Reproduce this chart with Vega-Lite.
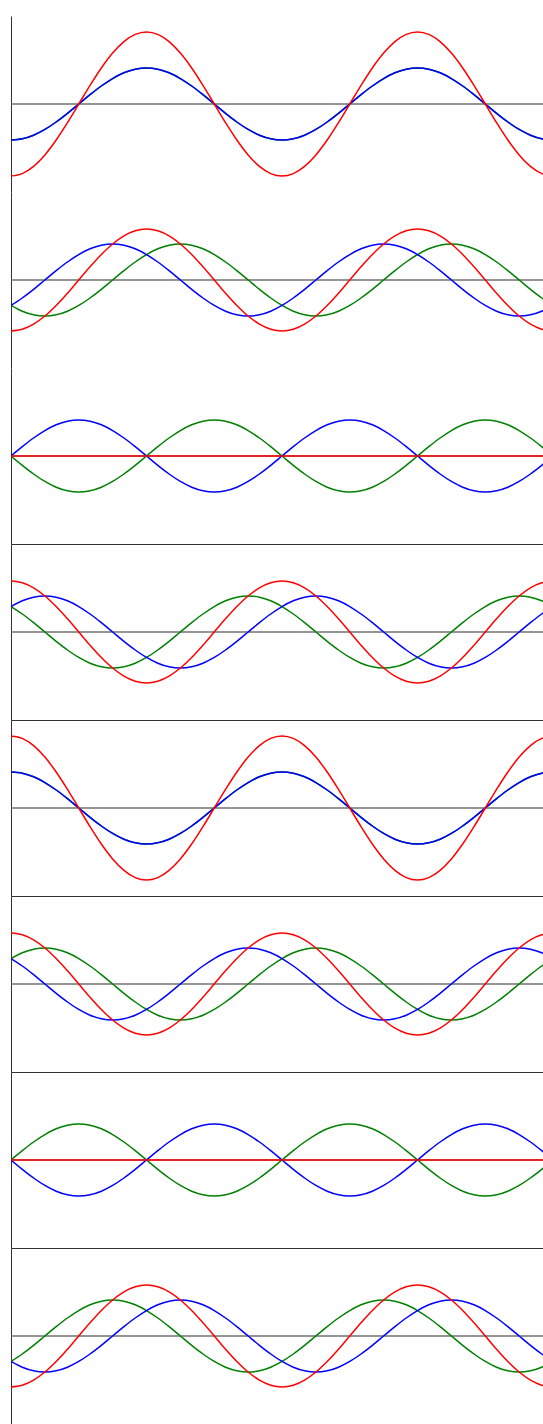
{
"$schema": "https://vega.github.io/schema/vega-lite/v6.json",
"padding": {"left": 10, "top": 16, "right": 0, "bottom": 0},
"spacing": 0,
"bounds": "flush",
"config": {"view": {"stroke": null}, "axis": {"ticks": false, "labels": false, "grid": false, "domainColor": "#333333", "domainWidth": 1}},
"datasets": {
"d": [
{"p":1,"t":0,"b":-1,"g":-1,"r":-2},{"p":1,"t":15,"b":-0.966,"g":-0.966,"r":-1.932},{"p":1,"t":30,"b":-0.866,"g":-0.866,"r":-1.732},{"p":1,"t":45,"b":-0.707,"g":-0.707,"r":-1.414},{"p":1,"t":60,"b":-0.5,"g":-0.5,"r":-1},{"p":1,"t":75,"b":-0.259,"g":-0.259,"r":-0.518},{"p":1,"t":90,"b":0,"g":0,"r":0},{"p":1,"t":105,"b":0.259,"g":0.259,"r":0.518},{"p":1,"t":120,"b":0.5,"g":0.5,"r":1},{"p":1,"t":135,"b":0.707,"g":0.707,"r":1.414},{"p":1,"t":150,"b":0.866,"g":0.866,"r":1.732},{"p":1,"t":165,"b":0.966,"g":0.966,"r":1.932},{"p":1,"t":180,"b":1,"g":1,"r":2},{"p":1,"t":195,"b":0.966,"g":0.966,"r":1.932},{"p":1,"t":210,"b":0.866,"g":0.866,"r":1.732},{"p":1,"t":225,"b":0.707,"g":0.707,"r":1.414},{"p":1,"t":240,"b":0.5,"g":0.5,"r":1},{"p":1,"t":255,"b":0.259,"g":0.259,"r":0.518},{"p":1,"t":270,"b":0,"g":0,"r":0},{"p":1,"t":285,"b":-0.259,"g":-0.259,"r":-0.518},{"p":1,"t":300,"b":-0.5,"g":-0.5,"r":-1},{"p":1,"t":315,"b":-0.707,"g":-0.707,"r":-1.414},{"p":1,"t":330,"b":-0.866,"g":-0.866,"r":-1.732},{"p":1,"t":345,"b":-0.966,"g":-0.966,"r":-1.932},
{"p":1,"t":360,"b":-1,"g":-1,"r":-2},{"p":1,"t":375,"b":-0.966,"g":-0.966,"r":-1.932},{"p":1,"t":390,"b":-0.866,"g":-0.866,"r":-1.732},{"p":1,"t":405,"b":-0.707,"g":-0.707,"r":-1.414},{"p":1,"t":420,"b":-0.5,"g":-0.5,"r":-1},{"p":1,"t":435,"b":-0.259,"g":-0.259,"r":-0.518},{"p":1,"t":450,"b":0,"g":0,"r":0},{"p":1,"t":465,"b":0.259,"g":0.259,"r":0.518},{"p":1,"t":480,"b":0.5,"g":0.5,"r":1},{"p":1,"t":495,"b":0.707,"g":0.707,"r":1.414},{"p":1,"t":510,"b":0.866,"g":0.866,"r":1.732},{"p":1,"t":525,"b":0.966,"g":0.966,"r":1.932},{"p":1,"t":540,"b":1,"g":1,"r":2},{"p":1,"t":555,"b":0.966,"g":0.966,"r":1.932},{"p":1,"t":570,"b":0.866,"g":0.866,"r":1.732},{"p":1,"t":585,"b":0.707,"g":0.707,"r":1.414},{"p":1,"t":600,"b":0.5,"g":0.5,"r":1},{"p":1,"t":615,"b":0.259,"g":0.259,"r":0.518},{"p":1,"t":630,"b":0,"g":0,"r":0},{"p":1,"t":645,"b":-0.259,"g":-0.259,"r":-0.518},{"p":1,"t":660,"b":-0.5,"g":-0.5,"r":-1},{"p":1,"t":675,"b":-0.707,"g":-0.707,"r":-1.414},{"p":1,"t":690,"b":-0.866,"g":-0.866,"r":-1.732},{"p":1,"t":705,"b":-0.966,"g":-0.966,"r":-1.932},{"p":1,"t":720,"b":-1,"g":-1,"r":-2},

{"p":2,"t":0,"b":-0.707,"g":-0.707,"r":-1.414},{"p":2,"t":15,"b":-0.5,"g":-0.866,"r":-1.366},{"p":2,"t":30,"b":-0.259,"g":-0.966,"r":-1.225},{"p":2,"t":45,"b":0,"g":-1,"r":-1},{"p":2,"t":60,"b":0.259,"g":-0.966,"r":-0.707},{"p":2,"t":75,"b":0.5,"g":-0.866,"r":-0.366},{"p":2,"t":90,"b":0.707,"g":-0.707,"r":0},{"p":2,"t":105,"b":0.866,"g":-0.5,"r":0.366},{"p":2,"t":120,"b":0.966,"g":-0.259,"r":0.707},{"p":2,"t":135,"b":1,"g":0,"r":1},{"p":2,"t":150,"b":0.966,"g":0.259,"r":1.225},{"p":2,"t":165,"b":0.866,"g":0.5,"r":1.366},{"p":2,"t":180,"b":0.707,"g":0.707,"r":1.414},{"p":2,"t":195,"b":0.5,"g":0.866,"r":1.366},{"p":2,"t":210,"b":0.259,"g":0.966,"r":1.225},{"p":2,"t":225,"b":0,"g":1,"r":1},{"p":2,"t":240,"b":-0.259,"g":0.966,"r":0.707},{"p":2,"t":255,"b":-0.5,"g":0.866,"r":0.366},{"p":2,"t":270,"b":-0.707,"g":0.707,"r":0},{"p":2,"t":285,"b":-0.866,"g":0.5,"r":-0.366},{"p":2,"t":300,"b":-0.966,"g":0.259,"r":-0.707},{"p":2,"t":315,"b":-1,"g":0,"r":-1},{"p":2,"t":330,"b":-0.966,"g":-0.259,"r":-1.225},{"p":2,"t":345,"b":-0.866,"g":-0.5,"r":-1.366},
{"p":2,"t":360,"b":-0.707,"g":-0.707,"r":-1.414},{"p":2,"t":375,"b":-0.5,"g":-0.866,"r":-1.366},{"p":2,"t":390,"b":-0.259,"g":-0.966,"r":-1.225},{"p":2,"t":405,"b":0,"g":-1,"r":-1},{"p":2,"t":420,"b":0.259,"g":-0.966,"r":-0.707},{"p":2,"t":435,"b":0.5,"g":-0.866,"r":-0.366},{"p":2,"t":450,"b":0.707,"g":-0.707,"r":0},{"p":2,"t":465,"b":0.866,"g":-0.5,"r":0.366},{"p":2,"t":480,"b":0.966,"g":-0.259,"r":0.707},{"p":2,"t":495,"b":1,"g":0,"r":1},{"p":2,"t":510,"b":0.966,"g":0.259,"r":1.225},{"p":2,"t":525,"b":0.866,"g":0.5,"r":1.366},{"p":2,"t":540,"b":0.707,"g":0.707,"r":1.414},{"p":2,"t":555,"b":0.5,"g":0.866,"r":1.366},{"p":2,"t":570,"b":0.259,"g":0.966,"r":1.225},{"p":2,"t":585,"b":0,"g":1,"r":1},{"p":2,"t":600,"b":-0.259,"g":0.966,"r":0.707},{"p":2,"t":615,"b":-0.5,"g":0.866,"r":0.366},{"p":2,"t":630,"b":-0.707,"g":0.707,"r":0},{"p":2,"t":645,"b":-0.866,"g":0.5,"r":-0.366},{"p":2,"t":660,"b":-0.966,"g":0.259,"r":-0.707},{"p":2,"t":675,"b":-1,"g":0,"r":-1},{"p":2,"t":690,"b":-0.966,"g":-0.259,"r":-1.225},{"p":2,"t":705,"b":-0.866,"g":-0.5,"r":-1.366},{"p":2,"t":720,"b":-0.707,"g":-0.707,"r":-1.414},

{"p":3,"t":0,"b":0,"g":0,"r":0},{"p":3,"t":15,"b":0.259,"g":-0.259,"r":0},{"p":3,"t":30,"b":0.5,"g":-0.5,"r":0},{"p":3,"t":45,"b":0.707,"g":-0.707,"r":0},{"p":3,"t":60,"b":0.866,"g":-0.866,"r":0},{"p":3,"t":75,"b":0.966,"g":-0.966,"r":0},{"p":3,"t":90,"b":1,"g":-1,"r":0},{"p":3,"t":105,"b":0.966,"g":-0.966,"r":0},{"p":3,"t":120,"b":0.866,"g":-0.866,"r":0},{"p":3,"t":135,"b":0.707,"g":-0.707,"r":0},{"p":3,"t":150,"b":0.5,"g":-0.5,"r":0},{"p":3,"t":165,"b":0.259,"g":-0.259,"r":0},{"p":3,"t":180,"b":0,"g":0,"r":0},{"p":3,"t":195,"b":-0.259,"g":0.259,"r":0},{"p":3,"t":210,"b":-0.5,"g":0.5,"r":0},{"p":3,"t":225,"b":-0.707,"g":0.707,"r":0},{"p":3,"t":240,"b":-0.866,"g":0.866,"r":0},{"p":3,"t":255,"b":-0.966,"g":0.966,"r":0},{"p":3,"t":270,"b":-1,"g":1,"r":0},{"p":3,"t":285,"b":-0.966,"g":0.966,"r":0},{"p":3,"t":300,"b":-0.866,"g":0.866,"r":0},{"p":3,"t":315,"b":-0.707,"g":0.707,"r":0},{"p":3,"t":330,"b":-0.5,"g":0.5,"r":0},{"p":3,"t":345,"b":-0.259,"g":0.259,"r":0},
{"p":3,"t":360,"b":0,"g":0,"r":0},{"p":3,"t":375,"b":0.259,"g":-0.259,"r":0},{"p":3,"t":390,"b":0.5,"g":-0.5,"r":0},{"p":3,"t":405,"b":0.707,"g":-0.707,"r":0},{"p":3,"t":420,"b":0.866,"g":-0.866,"r":0},{"p":3,"t":435,"b":0.966,"g":-0.966,"r":0},{"p":3,"t":450,"b":1,"g":-1,"r":0},{"p":3,"t":465,"b":0.966,"g":-0.966,"r":0},{"p":3,"t":480,"b":0.866,"g":-0.866,"r":0},{"p":3,"t":495,"b":0.707,"g":-0.707,"r":0},{"p":3,"t":510,"b":0.5,"g":-0.5,"r":0},{"p":3,"t":525,"b":0.259,"g":-0.259,"r":0},{"p":3,"t":540,"b":0,"g":0,"r":0},{"p":3,"t":555,"b":-0.259,"g":0.259,"r":0},{"p":3,"t":570,"b":-0.5,"g":0.5,"r":0},{"p":3,"t":585,"b":-0.707,"g":0.707,"r":0},{"p":3,"t":600,"b":-0.866,"g":0.866,"r":0},{"p":3,"t":615,"b":-0.966,"g":0.966,"r":0},{"p":3,"t":630,"b":-1,"g":1,"r":0},{"p":3,"t":645,"b":-0.966,"g":0.966,"r":0},{"p":3,"t":660,"b":-0.866,"g":0.866,"r":0},{"p":3,"t":675,"b":-0.707,"g":0.707,"r":0},{"p":3,"t":690,"b":-0.5,"g":0.5,"r":0},{"p":3,"t":705,"b":-0.259,"g":0.259,"r":0},{"p":3,"t":720,"b":0,"g":0,"r":0},

{"p":4,"t":0,"b":0.707,"g":0.707,"r":1.414},{"p":4,"t":15,"b":0.866,"g":0.5,"r":1.366},{"p":4,"t":30,"b":0.966,"g":0.259,"r":1.225},{"p":4,"t":45,"b":1,"g":0,"r":1},{"p":4,"t":60,"b":0.966,"g":-0.259,"r":0.707},{"p":4,"t":75,"b":0.866,"g":-0.5,"r":0.366},{"p":4,"t":90,"b":0.707,"g":-0.707,"r":0},{"p":4,"t":105,"b":0.5,"g":-0.866,"r":-0.366},{"p":4,"t":120,"b":0.259,"g":-0.966,"r":-0.707},{"p":4,"t":135,"b":0,"g":-1,"r":-1},{"p":4,"t":150,"b":-0.259,"g":-0.966,"r":-1.225},{"p":4,"t":165,"b":-0.5,"g":-0.866,"r":-1.366},{"p":4,"t":180,"b":-0.707,"g":-0.707,"r":-1.414},{"p":4,"t":195,"b":-0.866,"g":-0.5,"r":-1.366},{"p":4,"t":210,"b":-0.966,"g":-0.259,"r":-1.225},{"p":4,"t":225,"b":-1,"g":0,"r":-1},{"p":4,"t":240,"b":-0.966,"g":0.259,"r":-0.707},{"p":4,"t":255,"b":-0.866,"g":0.5,"r":-0.366},{"p":4,"t":270,"b":-0.707,"g":0.707,"r":0},{"p":4,"t":285,"b":-0.5,"g":0.866,"r":0.366},{"p":4,"t":300,"b":-0.259,"g":0.966,"r":0.707},{"p":4,"t":315,"b":0,"g":1,"r":1},{"p":4,"t":330,"b":0.259,"g":0.966,"r":1.225},{"p":4,"t":345,"b":0.5,"g":0.866,"r":1.366},
{"p":4,"t":360,"b":0.707,"g":0.707,"r":1.414},{"p":4,"t":375,"b":0.866,"g":0.5,"r":1.366},{"p":4,"t":390,"b":0.966,"g":0.259,"r":1.225},{"p":4,"t":405,"b":1,"g":0,"r":1},{"p":4,"t":420,"b":0.966,"g":-0.259,"r":0.707},{"p":4,"t":435,"b":0.866,"g":-0.5,"r":0.366},{"p":4,"t":450,"b":0.707,"g":-0.707,"r":0},{"p":4,"t":465,"b":0.5,"g":-0.866,"r":-0.366},{"p":4,"t":480,"b":0.259,"g":-0.966,"r":-0.707},{"p":4,"t":495,"b":0,"g":-1,"r":-1},{"p":4,"t":510,"b":-0.259,"g":-0.966,"r":-1.225},{"p":4,"t":525,"b":-0.5,"g":-0.866,"r":-1.366},{"p":4,"t":540,"b":-0.707,"g":-0.707,"r":-1.414},{"p":4,"t":555,"b":-0.866,"g":-0.5,"r":-1.366},{"p":4,"t":570,"b":-0.966,"g":-0.259,"r":-1.225},{"p":4,"t":585,"b":-1,"g":0,"r":-1},{"p":4,"t":600,"b":-0.966,"g":0.259,"r":-0.707},{"p":4,"t":615,"b":-0.866,"g":0.5,"r":-0.366},{"p":4,"t":630,"b":-0.707,"g":0.707,"r":0},{"p":4,"t":645,"b":-0.5,"g":0.866,"r":0.366},{"p":4,"t":660,"b":-0.259,"g":0.966,"r":0.707},{"p":4,"t":675,"b":0,"g":1,"r":1},{"p":4,"t":690,"b":0.259,"g":0.966,"r":1.225},{"p":4,"t":705,"b":0.5,"g":0.866,"r":1.366},{"p":4,"t":720,"b":0.707,"g":0.707,"r":1.414},

{"p":5,"t":0,"b":1,"g":1,"r":2},{"p":5,"t":15,"b":0.966,"g":0.966,"r":1.932},{"p":5,"t":30,"b":0.866,"g":0.866,"r":1.732},{"p":5,"t":45,"b":0.707,"g":0.707,"r":1.414},{"p":5,"t":60,"b":0.5,"g":0.5,"r":1},{"p":5,"t":75,"b":0.259,"g":0.259,"r":0.518},{"p":5,"t":90,"b":0,"g":0,"r":0},{"p":5,"t":105,"b":-0.259,"g":-0.259,"r":-0.518},{"p":5,"t":120,"b":-0.5,"g":-0.5,"r":-1},{"p":5,"t":135,"b":-0.707,"g":-0.707,"r":-1.414},{"p":5,"t":150,"b":-0.866,"g":-0.866,"r":-1.732},{"p":5,"t":165,"b":-0.966,"g":-0.966,"r":-1.932},{"p":5,"t":180,"b":-1,"g":-1,"r":-2},{"p":5,"t":195,"b":-0.966,"g":-0.966,"r":-1.932},{"p":5,"t":210,"b":-0.866,"g":-0.866,"r":-1.732},{"p":5,"t":225,"b":-0.707,"g":-0.707,"r":-1.414},{"p":5,"t":240,"b":-0.5,"g":-0.5,"r":-1},{"p":5,"t":255,"b":-0.259,"g":-0.259,"r":-0.518},{"p":5,"t":270,"b":0,"g":0,"r":0},{"p":5,"t":285,"b":0.259,"g":0.259,"r":0.518},{"p":5,"t":300,"b":0.5,"g":0.5,"r":1},{"p":5,"t":315,"b":0.707,"g":0.707,"r":1.414},{"p":5,"t":330,"b":0.866,"g":0.866,"r":1.732},{"p":5,"t":345,"b":0.966,"g":0.966,"r":1.932},
{"p":5,"t":360,"b":1,"g":1,"r":2},{"p":5,"t":375,"b":0.966,"g":0.966,"r":1.932},{"p":5,"t":390,"b":0.866,"g":0.866,"r":1.732},{"p":5,"t":405,"b":0.707,"g":0.707,"r":1.414},{"p":5,"t":420,"b":0.5,"g":0.5,"r":1},{"p":5,"t":435,"b":0.259,"g":0.259,"r":0.518},{"p":5,"t":450,"b":0,"g":0,"r":0},{"p":5,"t":465,"b":-0.259,"g":-0.259,"r":-0.518},{"p":5,"t":480,"b":-0.5,"g":-0.5,"r":-1},{"p":5,"t":495,"b":-0.707,"g":-0.707,"r":-1.414},{"p":5,"t":510,"b":-0.866,"g":-0.866,"r":-1.732},{"p":5,"t":525,"b":-0.966,"g":-0.966,"r":-1.932},{"p":5,"t":540,"b":-1,"g":-1,"r":-2},{"p":5,"t":555,"b":-0.966,"g":-0.966,"r":-1.932},{"p":5,"t":570,"b":-0.866,"g":-0.866,"r":-1.732},{"p":5,"t":585,"b":-0.707,"g":-0.707,"r":-1.414},{"p":5,"t":600,"b":-0.5,"g":-0.5,"r":-1},{"p":5,"t":615,"b":-0.259,"g":-0.259,"r":-0.518},{"p":5,"t":630,"b":0,"g":0,"r":0},{"p":5,"t":645,"b":0.259,"g":0.259,"r":0.518},{"p":5,"t":660,"b":0.5,"g":0.5,"r":1},{"p":5,"t":675,"b":0.707,"g":0.707,"r":1.414},{"p":5,"t":690,"b":0.866,"g":0.866,"r":1.732},{"p":5,"t":705,"b":0.966,"g":0.966,"r":1.932},{"p":5,"t":720,"b":1,"g":1,"r":2},

{"p":6,"t":0,"g":0.707,"b":0.707,"r":1.414},{"p":6,"t":15,"g":0.866,"b":0.5,"r":1.366},{"p":6,"t":30,"g":0.966,"b":0.259,"r":1.225},{"p":6,"t":45,"g":1,"b":0,"r":1},{"p":6,"t":60,"g":0.966,"b":-0.259,"r":0.707},{"p":6,"t":75,"g":0.866,"b":-0.5,"r":0.366},{"p":6,"t":90,"g":0.707,"b":-0.707,"r":0},{"p":6,"t":105,"g":0.5,"b":-0.866,"r":-0.366},{"p":6,"t":120,"g":0.259,"b":-0.966,"r":-0.707},{"p":6,"t":135,"g":0,"b":-1,"r":-1},{"p":6,"t":150,"g":-0.259,"b":-0.966,"r":-1.225},{"p":6,"t":165,"g":-0.5,"b":-0.866,"r":-1.366},{"p":6,"t":180,"g":-0.707,"b":-0.707,"r":-1.414},{"p":6,"t":195,"g":-0.866,"b":-0.5,"r":-1.366},{"p":6,"t":210,"g":-0.966,"b":-0.259,"r":-1.225},{"p":6,"t":225,"g":-1,"b":0,"r":-1},{"p":6,"t":240,"g":-0.966,"b":0.259,"r":-0.707},{"p":6,"t":255,"g":-0.866,"b":0.5,"r":-0.366},{"p":6,"t":270,"g":-0.707,"b":0.707,"r":0},{"p":6,"t":285,"g":-0.5,"b":0.866,"r":0.366},{"p":6,"t":300,"g":-0.259,"b":0.966,"r":0.707},{"p":6,"t":315,"g":0,"b":1,"r":1},{"p":6,"t":330,"g":0.259,"b":0.966,"r":1.225},{"p":6,"t":345,"g":0.5,"b":0.866,"r":1.366},
{"p":6,"t":360,"g":0.707,"b":0.707,"r":1.414},{"p":6,"t":375,"g":0.866,"b":0.5,"r":1.366},{"p":6,"t":390,"g":0.966,"b":0.259,"r":1.225},{"p":6,"t":405,"g":1,"b":0,"r":1},{"p":6,"t":420,"g":0.966,"b":-0.259,"r":0.707},{"p":6,"t":435,"g":0.866,"b":-0.5,"r":0.366},{"p":6,"t":450,"g":0.707,"b":-0.707,"r":0},{"p":6,"t":465,"g":0.5,"b":-0.866,"r":-0.366},{"p":6,"t":480,"g":0.259,"b":-0.966,"r":-0.707},{"p":6,"t":495,"g":0,"b":-1,"r":-1},{"p":6,"t":510,"g":-0.259,"b":-0.966,"r":-1.225},{"p":6,"t":525,"g":-0.5,"b":-0.866,"r":-1.366},{"p":6,"t":540,"g":-0.707,"b":-0.707,"r":-1.414},{"p":6,"t":555,"g":-0.866,"b":-0.5,"r":-1.366},{"p":6,"t":570,"g":-0.966,"b":-0.259,"r":-1.225},{"p":6,"t":585,"g":-1,"b":0,"r":-1},{"p":6,"t":600,"g":-0.966,"b":0.259,"r":-0.707},{"p":6,"t":615,"g":-0.866,"b":0.5,"r":-0.366},{"p":6,"t":630,"g":-0.707,"b":0.707,"r":0},{"p":6,"t":645,"g":-0.5,"b":0.866,"r":0.366},{"p":6,"t":660,"g":-0.259,"b":0.966,"r":0.707},{"p":6,"t":675,"g":0,"b":1,"r":1},{"p":6,"t":690,"g":0.259,"b":0.966,"r":1.225},{"p":6,"t":705,"g":0.5,"b":0.866,"r":1.366},{"p":6,"t":720,"g":0.707,"b":0.707,"r":1.414},

{"p":7,"t":0,"g":0,"b":0,"r":0},{"p":7,"t":15,"g":0.259,"b":-0.259,"r":0},{"p":7,"t":30,"g":0.5,"b":-0.5,"r":0},{"p":7,"t":45,"g":0.707,"b":-0.707,"r":0},{"p":7,"t":60,"g":0.866,"b":-0.866,"r":0},{"p":7,"t":75,"g":0.966,"b":-0.966,"r":0},{"p":7,"t":90,"g":1,"b":-1,"r":0},{"p":7,"t":105,"g":0.966,"b":-0.966,"r":0},{"p":7,"t":120,"g":0.866,"b":-0.866,"r":0},{"p":7,"t":135,"g":0.707,"b":-0.707,"r":0},{"p":7,"t":150,"g":0.5,"b":-0.5,"r":0},{"p":7,"t":165,"g":0.259,"b":-0.259,"r":0},{"p":7,"t":180,"g":0,"b":0,"r":0},{"p":7,"t":195,"g":-0.259,"b":0.259,"r":0},{"p":7,"t":210,"g":-0.5,"b":0.5,"r":0},{"p":7,"t":225,"g":-0.707,"b":0.707,"r":0},{"p":7,"t":240,"g":-0.866,"b":0.866,"r":0},{"p":7,"t":255,"g":-0.966,"b":0.966,"r":0},{"p":7,"t":270,"g":-1,"b":1,"r":0},{"p":7,"t":285,"g":-0.966,"b":0.966,"r":0},{"p":7,"t":300,"g":-0.866,"b":0.866,"r":0},{"p":7,"t":315,"g":-0.707,"b":0.707,"r":0},{"p":7,"t":330,"g":-0.5,"b":0.5,"r":0},{"p":7,"t":345,"g":-0.259,"b":0.259,"r":0},
{"p":7,"t":360,"g":0,"b":0,"r":0},{"p":7,"t":375,"g":0.259,"b":-0.259,"r":0},{"p":7,"t":390,"g":0.5,"b":-0.5,"r":0},{"p":7,"t":405,"g":0.707,"b":-0.707,"r":0},{"p":7,"t":420,"g":0.866,"b":-0.866,"r":0},{"p":7,"t":435,"g":0.966,"b":-0.966,"r":0},{"p":7,"t":450,"g":1,"b":-1,"r":0},{"p":7,"t":465,"g":0.966,"b":-0.966,"r":0},{"p":7,"t":480,"g":0.866,"b":-0.866,"r":0},{"p":7,"t":495,"g":0.707,"b":-0.707,"r":0},{"p":7,"t":510,"g":0.5,"b":-0.5,"r":0},{"p":7,"t":525,"g":0.259,"b":-0.259,"r":0},{"p":7,"t":540,"g":0,"b":0,"r":0},{"p":7,"t":555,"g":-0.259,"b":0.259,"r":0},{"p":7,"t":570,"g":-0.5,"b":0.5,"r":0},{"p":7,"t":585,"g":-0.707,"b":0.707,"r":0},{"p":7,"t":600,"g":-0.866,"b":0.866,"r":0},{"p":7,"t":615,"g":-0.966,"b":0.966,"r":0},{"p":7,"t":630,"g":-1,"b":1,"r":0},{"p":7,"t":645,"g":-0.966,"b":0.966,"r":0},{"p":7,"t":660,"g":-0.866,"b":0.866,"r":0},{"p":7,"t":675,"g":-0.707,"b":0.707,"r":0},{"p":7,"t":690,"g":-0.5,"b":0.5,"r":0},{"p":7,"t":705,"g":-0.259,"b":0.259,"r":0},{"p":7,"t":720,"g":0,"b":0,"r":0},

{"p":8,"t":0,"g":-0.707,"b":-0.707,"r":-1.414},{"p":8,"t":15,"g":-0.5,"b":-0.866,"r":-1.366},{"p":8,"t":30,"g":-0.259,"b":-0.966,"r":-1.225},{"p":8,"t":45,"g":0,"b":-1,"r":-1},{"p":8,"t":60,"g":0.259,"b":-0.966,"r":-0.707},{"p":8,"t":75,"g":0.5,"b":-0.866,"r":-0.366},{"p":8,"t":90,"g":0.707,"b":-0.707,"r":0},{"p":8,"t":105,"g":0.866,"b":-0.5,"r":0.366},{"p":8,"t":120,"g":0.966,"b":-0.259,"r":0.707},{"p":8,"t":135,"g":1,"b":0,"r":1},{"p":8,"t":150,"g":0.966,"b":0.259,"r":1.225},{"p":8,"t":165,"g":0.866,"b":0.5,"r":1.366},{"p":8,"t":180,"g":0.707,"b":0.707,"r":1.414},{"p":8,"t":195,"g":0.5,"b":0.866,"r":1.366},{"p":8,"t":210,"g":0.259,"b":0.966,"r":1.225},{"p":8,"t":225,"g":0,"b":1,"r":1},{"p":8,"t":240,"g":-0.259,"b":0.966,"r":0.707},{"p":8,"t":255,"g":-0.5,"b":0.866,"r":0.366},{"p":8,"t":270,"g":-0.707,"b":0.707,"r":0},{"p":8,"t":285,"g":-0.866,"b":0.5,"r":-0.366},{"p":8,"t":300,"g":-0.966,"b":0.259,"r":-0.707},{"p":8,"t":315,"g":-1,"b":0,"r":-1},{"p":8,"t":330,"g":-0.966,"b":-0.259,"r":-1.225},{"p":8,"t":345,"g":-0.866,"b":-0.5,"r":-1.366},
{"p":8,"t":360,"g":-0.707,"b":-0.707,"r":-1.414},{"p":8,"t":375,"g":-0.5,"b":-0.866,"r":-1.366},{"p":8,"t":390,"g":-0.259,"b":-0.966,"r":-1.225},{"p":8,"t":405,"g":0,"b":-1,"r":-1},{"p":8,"t":420,"g":0.259,"b":-0.966,"r":-0.707},{"p":8,"t":435,"g":0.5,"b":-0.866,"r":-0.366},{"p":8,"t":450,"g":0.707,"b":-0.707,"r":0},{"p":8,"t":465,"g":0.866,"b":-0.5,"r":0.366},{"p":8,"t":480,"g":0.966,"b":-0.259,"r":0.707},{"p":8,"t":495,"g":1,"b":0,"r":1},{"p":8,"t":510,"g":0.966,"b":0.259,"r":1.225},{"p":8,"t":525,"g":0.866,"b":0.5,"r":1.366},{"p":8,"t":540,"g":0.707,"b":0.707,"r":1.414},{"p":8,"t":555,"g":0.5,"b":0.866,"r":1.366},{"p":8,"t":570,"g":0.259,"b":0.966,"r":1.225},{"p":8,"t":585,"g":0,"b":1,"r":1},{"p":8,"t":600,"g":-0.259,"b":0.966,"r":0.707},{"p":8,"t":615,"g":-0.5,"b":0.866,"r":0.366},{"p":8,"t":630,"g":-0.707,"b":0.707,"r":0},{"p":8,"t":645,"g":-0.866,"b":0.5,"r":-0.366},{"p":8,"t":660,"g":-0.966,"b":0.259,"r":-0.707},{"p":8,"t":675,"g":-1,"b":0,"r":-1},{"p":8,"t":690,"g":-0.966,"b":-0.259,"r":-1.225},{"p":8,"t":705,"g":-0.866,"b":-0.5,"r":-1.366},{"p":8,"t":720,"g":-0.707,"b":-0.707,"r":-1.414}
]
},
"vconcat": [
{"width": 533, "height": 176, "data": {"name": "d"}, "transform": [{"filter": "datum.p == 1"}],
 "layer": [
  {"data": {"values": [{}]}, "mark": {"type": "rule", "color": "#707070", "strokeWidth": 1.5}, "encoding": {"y": {"datum": 0, "type": "quantitative", "scale": {"domain": [-2.444, 2.444], "nice": false}, "title": null}}},
  {"mark": {"type": "line", "color": "#008000", "strokeWidth": 1.5, "interpolate": "monotone", "clip": true}, "encoding": {"x": {"field": "t", "type": "quantitative", "scale": {"domain": [0, 708], "nice": false}, "axis": null}, "y": {"field": "g", "type": "quantitative", "title": null}}},
  {"mark": {"type": "line", "color": "#0000ff", "strokeWidth": 1.5, "interpolate": "monotone", "clip": true}, "encoding": {"x": {"field": "t", "type": "quantitative", "axis": null}, "y": {"field": "b", "type": "quantitative", "title": null}}},
  {"mark": {"type": "line", "color": "#ff0000", "strokeWidth": 1.5, "interpolate": "monotone", "clip": true}, "encoding": {"x": {"field": "t", "type": "quantitative", "axis": null}, "y": {"field": "r", "type": "quantitative", "title": null}}}
 ]},
{"width": 533, "height": 176, "data": {"name": "d"}, "transform": [{"filter": "datum.p == 2"}],
 "layer": [
  {"data": {"values": [{}]}, "mark": {"type": "rule", "color": "#707070", "strokeWidth": 1.5}, "encoding": {"y": {"datum": 0, "type": "quantitative", "scale": {"domain": [-2.444, 2.444], "nice": false}, "title": null}}},
  {"mark": {"type": "line", "color": "#008000", "strokeWidth": 1.5, "interpolate": "monotone", "clip": true}, "encoding": {"x": {"field": "t", "type": "quantitative", "scale": {"domain": [0, 708], "nice": false}, "axis": null}, "y": {"field": "g", "type": "quantitative", "title": null}}},
  {"mark": {"type": "line", "color": "#0000ff", "strokeWidth": 1.5, "interpolate": "monotone", "clip": true}, "encoding": {"x": {"field": "t", "type": "quantitative", "axis": null}, "y": {"field": "b", "type": "quantitative", "title": null}}},
  {"mark": {"type": "line", "color": "#ff0000", "strokeWidth": 1.5, "interpolate": "monotone", "clip": true}, "encoding": {"x": {"field": "t", "type": "quantitative", "axis": null}, "y": {"field": "r", "type": "quantitative", "title": null}}}
 ]},
{"width": 533, "height": 176, "data": {"name": "d"}, "transform": [{"filter": "datum.p == 3"}],
 "layer": [
  {"data": {"values": [{}]}, "mark": {"type": "rule", "color": "#707070", "strokeWidth": 1.5}, "encoding": {"y": {"datum": 0, "type": "quantitative", "scale": {"domain": [-2.444, 2.444], "nice": false}, "title": null}}},
  {"mark": {"type": "line", "color": "#008000", "strokeWidth": 1.5, "interpolate": "monotone", "clip": true}, "encoding": {"x": {"field": "t", "type": "quantitative", "scale": {"domain": [0, 708], "nice": false}, "title": null}, "y": {"field": "g", "type": "quantitative", "title": null}}},
  {"mark": {"type": "line", "color": "#0000ff", "strokeWidth": 1.5, "interpolate": "monotone", "clip": true}, "encoding": {"x": {"field": "t", "type": "quantitative", "title": null}, "y": {"field": "b", "type": "quantitative", "title": null}}},
  {"mark": {"type": "line", "color": "#ff0000", "strokeWidth": 1.5, "interpolate": "monotone", "clip": true}, "encoding": {"x": {"field": "t", "type": "quantitative", "title": null}, "y": {"field": "r", "type": "quantitative", "title": null}}}
 ]},
{"width": 533, "height": 176, "data": {"name": "d"}, "transform": [{"filter": "datum.p == 4"}],
 "layer": [
  {"data": {"values": [{}]}, "mark": {"type": "rule", "color": "#707070", "strokeWidth": 1.5}, "encoding": {"y": {"datum": 0, "type": "quantitative", "scale": {"domain": [-2.444, 2.444], "nice": false}, "title": null}}},
  {"mark": {"type": "line", "color": "#008000", "strokeWidth": 1.5, "interpolate": "monotone", "clip": true}, "encoding": {"x": {"field": "t", "type": "quantitative", "scale": {"domain": [0, 708], "nice": false}, "title": null}, "y": {"field": "g", "type": "quantitative", "title": null}}},
  {"mark": {"type": "line", "color": "#0000ff", "strokeWidth": 1.5, "interpolate": "monotone", "clip": true}, "encoding": {"x": {"field": "t", "type": "quantitative", "title": null}, "y": {"field": "b", "type": "quantitative", "title": null}}},
  {"mark": {"type": "line", "color": "#ff0000", "strokeWidth": 1.5, "interpolate": "monotone", "clip": true}, "encoding": {"x": {"field": "t", "type": "quantitative", "title": null}, "y": {"field": "r", "type": "quantitative", "title": null}}}
 ]},
{"width": 533, "height": 176, "data": {"name": "d"}, "transform": [{"filter": "datum.p == 5"}],
 "layer": [
  {"data": {"values": [{}]}, "mark": {"type": "rule", "color": "#707070", "strokeWidth": 1.5}, "encoding": {"y": {"datum": 0, "type": "quantitative", "scale": {"domain": [-2.444, 2.444], "nice": false}, "title": null}}},
  {"mark": {"type": "line", "color": "#008000", "strokeWidth": 1.5, "interpolate": "monotone", "clip": true}, "encoding": {"x": {"field": "t", "type": "quantitative", "scale": {"domain": [0, 708], "nice": false}, "title": null}, "y": {"field": "g", "type": "quantitative", "title": null}}},
  {"mark": {"type": "line", "color": "#0000ff", "strokeWidth": 1.5, "interpolate": "monotone", "clip": true}, "encoding": {"x": {"field": "t", "type": "quantitative", "title": null}, "y": {"field": "b", "type": "quantitative", "title": null}}},
  {"mark": {"type": "line", "color": "#ff0000", "strokeWidth": 1.5, "interpolate": "monotone", "clip": true}, "encoding": {"x": {"field": "t", "type": "quantitative", "title": null}, "y": {"field": "r", "type": "quantitative", "title": null}}}
 ]},
{"width": 533, "height": 176, "data": {"name": "d"}, "transform": [{"filter": "datum.p == 6"}],
 "layer": [
  {"data": {"values": [{}]}, "mark": {"type": "rule", "color": "#707070", "strokeWidth": 1.5}, "encoding": {"y": {"datum": 0, "type": "quantitative", "scale": {"domain": [-2.444, 2.444], "nice": false}, "title": null}}},
  {"mark": {"type": "line", "color": "#008000", "strokeWidth": 1.5, "interpolate": "monotone", "clip": true}, "encoding": {"x": {"field": "t", "type": "quantitative", "scale": {"domain": [0, 708], "nice": false}, "title": null}, "y": {"field": "g", "type": "quantitative", "title": null}}},
  {"mark": {"type": "line", "color": "#0000ff", "strokeWidth": 1.5, "interpolate": "monotone", "clip": true}, "encoding": {"x": {"field": "t", "type": "quantitative", "title": null}, "y": {"field": "b", "type": "quantitative", "title": null}}},
  {"mark": {"type": "line", "color": "#ff0000", "strokeWidth": 1.5, "interpolate": "monotone", "clip": true}, "encoding": {"x": {"field": "t", "type": "quantitative", "title": null}, "y": {"field": "r", "type": "quantitative", "title": null}}}
 ]},
{"width": 533, "height": 176, "data": {"name": "d"}, "transform": [{"filter": "datum.p == 7"}],
 "layer": [
  {"data": {"values": [{}]}, "mark": {"type": "rule", "color": "#707070", "strokeWidth": 1.5}, "encoding": {"y": {"datum": 0, "type": "quantitative", "scale": {"domain": [-2.444, 2.444], "nice": false}, "title": null}}},
  {"mark": {"type": "line", "color": "#008000", "strokeWidth": 1.5, "interpolate": "monotone", "clip": true}, "encoding": {"x": {"field": "t", "type": "quantitative", "scale": {"domain": [0, 708], "nice": false}, "title": null}, "y": {"field": "g", "type": "quantitative", "title": null}}},
  {"mark": {"type": "line", "color": "#0000ff", "strokeWidth": 1.5, "interpolate": "monotone", "clip": true}, "encoding": {"x": {"field": "t", "type": "quantitative", "title": null}, "y": {"field": "b", "type": "quantitative", "title": null}}},
  {"mark": {"type": "line", "color": "#ff0000", "strokeWidth": 1.5, "interpolate": "monotone", "clip": true}, "encoding": {"x": {"field": "t", "type": "quantitative", "title": null}, "y": {"field": "r", "type": "quantitative", "title": null}}}
 ]},
{"width": 533, "height": 176, "data": {"name": "d"}, "transform": [{"filter": "datum.p == 8"}],
 "layer": [
  {"data": {"values": [{}]}, "mark": {"type": "rule", "color": "#707070", "strokeWidth": 1.5}, "encoding": {"y": {"datum": 0, "type": "quantitative", "scale": {"domain": [-2.444, 2.444], "nice": false}, "title": null}}},
  {"mark": {"type": "line", "color": "#008000", "strokeWidth": 1.5, "interpolate": "monotone", "clip": true}, "encoding": {"x": {"field": "t", "type": "quantitative", "scale": {"domain": [0, 708], "nice": false}, "axis": null}, "y": {"field": "g", "type": "quantitative", "title": null}}},
  {"mark": {"type": "line", "color": "#0000ff", "strokeWidth": 1.5, "interpolate": "monotone", "clip": true}, "encoding": {"x": {"field": "t", "type": "quantitative", "axis": null}, "y": {"field": "b", "type": "quantitative", "title": null}}},
  {"mark": {"type": "line", "color": "#ff0000", "strokeWidth": 1.5, "interpolate": "monotone", "clip": true}, "encoding": {"x": {"field": "t", "type": "quantitative", "axis": null}, "y": {"field": "r", "type": "quantitative", "title": null}}}
 ]}
]
}
